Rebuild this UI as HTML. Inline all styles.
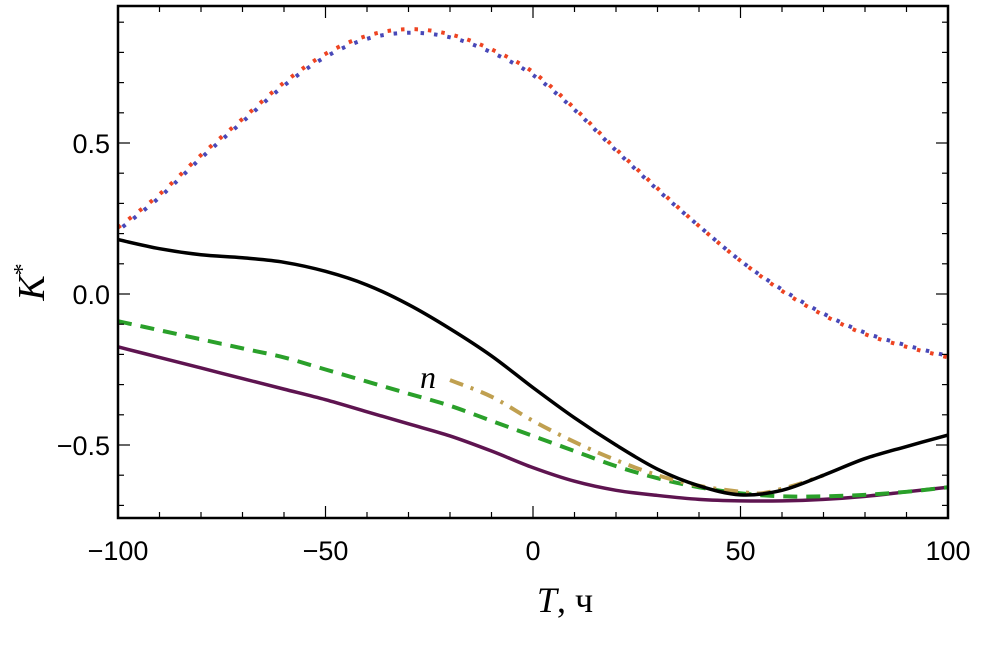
<!DOCTYPE html>
<html><head><meta charset="utf-8"><style>
html,body{margin:0;padding:0;background:#fff;}
svg{display:block;}
</style></head><body>
<svg id="chart" width="1008" height="658" xmlns="http://www.w3.org/2000/svg" font-family="Liberation Sans, sans-serif">
<g id="plot"></g>
<text x="565" y="612" font-family="Liberation Serif, serif" font-size="36" text-anchor="middle"><tspan font-style="italic">T</tspan>, ч</text>
<text transform="translate(44,282) rotate(-90)" font-family="Liberation Serif, serif" font-size="38" text-anchor="middle"><tspan font-style="italic">K</tspan><tspan dy="-14" font-size="24">*</tspan></text>
<text x="420" y="388" font-family="Liberation Serif, serif" font-size="32" font-style="italic">n</text>
</svg>
<script>
const tGrid = [-100,-90,-80,-70,-60,-50,-40,-30,-20,-10,0,10,20,30,40,50,60,70,80,90,100];
const redVals = [0.22,0.33,0.46,0.58,0.70,0.795,0.855,0.877,0.86,0.81,0.735,0.615,0.48,0.35,0.225,0.11,0.01,-0.07,-0.133,-0.175,-0.21];
const blueVals = [0.21,0.32,0.45,0.57,0.69,0.785,0.845,0.865,0.85,0.80,0.725,0.61,0.475,0.345,0.225,0.11,0.015,-0.065,-0.128,-0.17,-0.205];
const blackVals = [0.18,0.15,0.13,0.12,0.105,0.075,0.03,-0.035,-0.115,-0.205,-0.31,-0.41,-0.50,-0.58,-0.635,-0.665,-0.65,-0.60,-0.545,-0.505,-0.467];
const greenVals = [-0.09,-0.12,-0.15,-0.18,-0.21,-0.25,-0.29,-0.33,-0.37,-0.42,-0.47,-0.52,-0.57,-0.61,-0.64,-0.66,-0.67,-0.67,-0.665,-0.655,-0.64];
const purpleVals = [-0.175,-0.21,-0.245,-0.28,-0.315,-0.35,-0.39,-0.43,-0.47,-0.52,-0.575,-0.62,-0.65,-0.667,-0.68,-0.685,-0.685,-0.68,-0.67,-0.655,-0.64];
const goldT = [-20,-10,0,10,20,30,40,50,55,60,65,70];
const goldVals = [-0.285,-0.34,-0.42,-0.49,-0.55,-0.60,-0.635,-0.655,-0.66,-0.645,-0.625,-0.60];
const xTicks = [-100,-50,0,50,100];
const xTickLabels = ["\u2212100","\u221250","0","50","100"];
const yTicks = [-0.5,0,0.5];
const yTickLabels = ["\u22120.5","0.0","0.5"];

const NS="http://www.w3.org/2000/svg";
const L=118,R=948,T=6,B=518;
const X=t=>L+(t+100)/200*(R-L);
const Y=v=>294-v*302;
const g=document.getElementById('plot');
function el(tag,attrs,parent){const e=document.createElementNS(NS,tag);for(const k in attrs)e.setAttribute(k,attrs[k]);(parent||g).appendChild(e);return e;}
function pathD(ts,vs){
  const p=ts.map((t,i)=>[X(t),Y(vs[i])]);
  let d=`M${p[0][0]},${p[0][1]}`;
  for(let i=0;i<p.length-1;i++){
    const p0=p[Math.max(0,i-1)],p1=p[i],p2=p[i+1],p3=p[Math.min(p.length-1,i+2)];
    const c1=[p1[0]+(p2[0]-p0[0])/6,p1[1]+(p2[1]-p0[1])/6];
    const c2=[p2[0]-(p3[0]-p1[0])/6,p2[1]-(p3[1]-p1[1])/6];
    d+=` C${c1[0]},${c1[1]} ${c2[0]},${c2[1]} ${p2[0]},${p2[1]}`;
  }
  return d;
}
const clip=el('clipPath',{id:'cp'});
el('rect',{x:L,y:T,width:R-L,height:B-T},clip);
const series=el('g',{'clip-path':'url(#cp)'});



let s;
s=el('path',{d:pathD(tGrid,purpleVals),fill:'none',stroke:'#5e1450','stroke-width':3.5},series);


s=el('path',{d:pathD(tGrid,greenVals),fill:'none',stroke:'#2aa02a','stroke-width':4,'stroke-dasharray':'14 9'},series);


s=el('path',{d:pathD(goldT,goldVals),fill:'none',stroke:'#c0a050','stroke-width':4,'stroke-dasharray':'14 8 3 8'},series);


s=el('path',{d:pathD(tGrid,blackVals),fill:'none',stroke:'#000','stroke-width':3.5},series);


s=el('path',{d:pathD(tGrid,redVals),fill:'none',stroke:'#ee4422','stroke-width':4,'stroke-dasharray':'3.5 10'},series);


s=el('path',{d:pathD(tGrid,blueVals),fill:'none',stroke:'#4848b8','stroke-width':4,'stroke-dasharray':'3.5 10','stroke-dashoffset':'-6'},series);



for(let t=-100;t<=100;t+=10){
  const maj=t%50===0, len=maj?12:6;
  el('line',{x1:X(t),x2:X(t),y1:B,y2:B-len,stroke:'#000','stroke-width':1.2});
  el('line',{x1:X(t),x2:X(t),y1:T,y2:T+len,stroke:'#000','stroke-width':1.2});
}
for(let k=-7;k<=9;k++){
  const v=k/10, maj=k%5===0, len=maj?12:6;
  el('line',{x1:L,x2:L+len,y1:Y(v),y2:Y(v),stroke:'#000','stroke-width':1.2});
  el('line',{x1:R,x2:R-len,y1:Y(v),y2:Y(v),stroke:'#000','stroke-width':1.2});
}
const frame=el('rect',{x:L,y:T,width:R-L,height:B-T,fill:'none',stroke:'#000','stroke-width':2.5});


xTicks.forEach((t,i)=>{
  const tx=el('text',{x:X(t),y:560,'font-size':27,'text-anchor':'middle',fill:'#000'});
  tx.textContent=xTickLabels[i];
  
  
});
yTicks.forEach((v,i)=>{
  const tx=el('text',{x:110,y:Y(v)+10,'font-size':27,'text-anchor':'end',fill:'#000'});
  tx.textContent=yTickLabels[i];
  
  
});
</script>
</body></html>
